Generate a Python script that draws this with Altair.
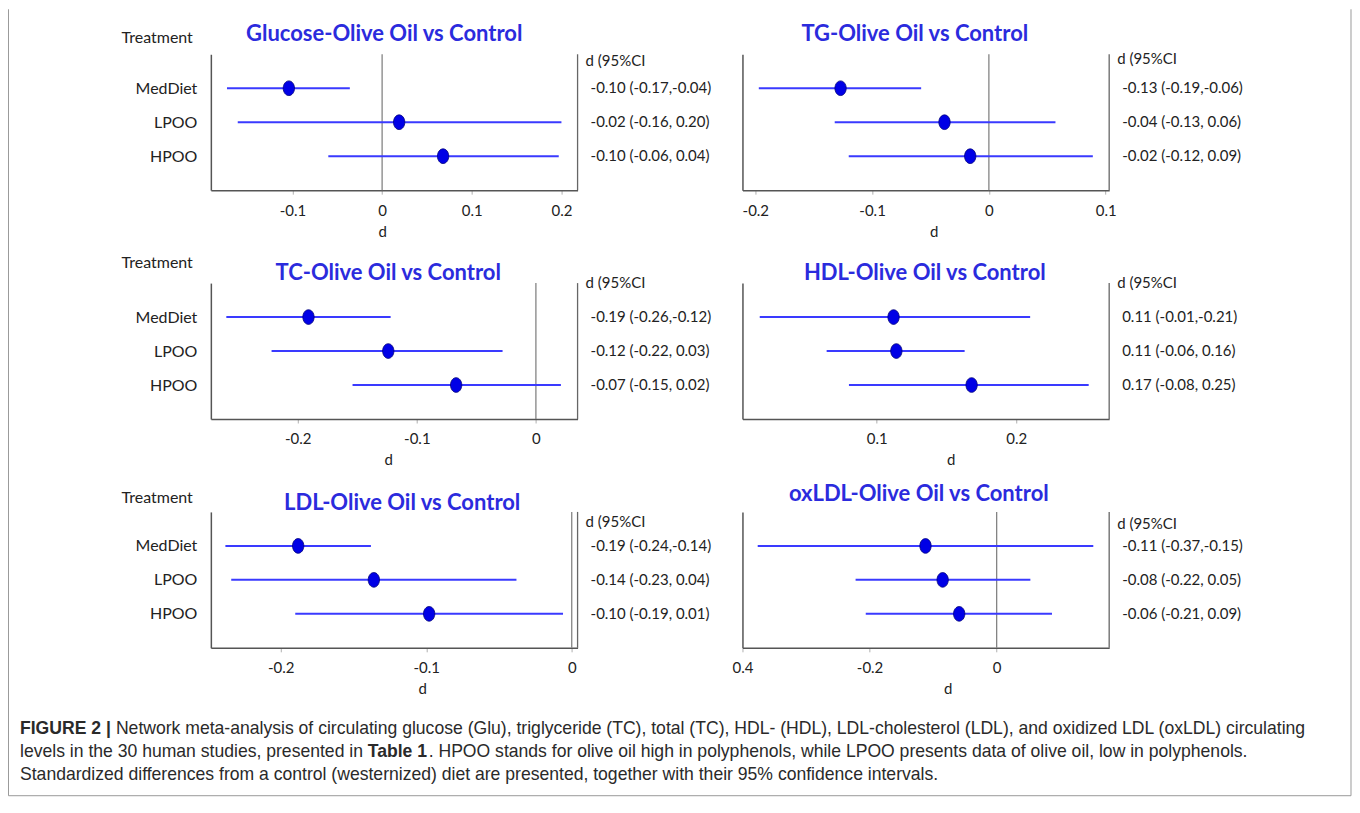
import altair as alt
import pandas as pd

# ---------------- data ----------------
treatments = ["MedDiet", "LPOO", "HPOO"]

panel_titles = [
    "Glucose-Olive Oil vs Control",
    "TG-Olive Oil vs Control",
    "TC-Olive Oil vs Control",
    "HDL-Olive Oil vs Control",
    "LDL-Olive Oil vs Control",
    "oxLDL-Olive Oil vs Control",
]

glu_est = [-0.104, 0.019, 0.068]
glu_lo = [-0.173, -0.161, -0.060]
glu_hi = [-0.036, 0.200, 0.197]
glu_lab = ["-0.10 (-0.17,-0.04)", "-0.02 (-0.16, 0.20)", "-0.10 (-0.06, 0.04)"]

tg_est = [-0.127, -0.038, -0.016]
tg_lo = [-0.197, -0.132, -0.120]
tg_hi = [-0.058, 0.057, 0.089]
tg_lab = ["-0.13 (-0.19,-0.06)", "-0.04 (-0.13, 0.06)", "-0.02 (-0.12, 0.09)"]

tc_est = [-0.191, -0.124, -0.067]
tc_lo = [-0.260, -0.222, -0.154]
tc_hi = [-0.122, -0.028, 0.021]
tc_lab = ["-0.19 (-0.26,-0.12)", "-0.12 (-0.22, 0.03)", "-0.07 (-0.15, 0.02)"]

hdl_est = [0.112, 0.114, 0.168]
hdl_lo = [0.016, 0.064, 0.080]
hdl_hi = [0.210, 0.163, 0.252]
hdl_lab = ["0.11 (-0.01,-0.21)", "0.11 (-0.06, 0.16)", "0.17 (-0.08, 0.25)"]

ldl_est = [-0.188, -0.136, -0.098]
ldl_lo = [-0.238, -0.234, -0.190]
ldl_hi = [-0.138, -0.038, -0.006]
ldl_lab = ["-0.19 (-0.24,-0.14)", "-0.14 (-0.23, 0.04)", "-0.10 (-0.19, 0.01)"]

ox_est = [-0.112, -0.085, -0.059]
ox_lo = [-0.376, -0.222, -0.206]
ox_hi = [0.152, 0.053, 0.087]
ox_lab = ["-0.11 (-0.37,-0.15)", "-0.08 (-0.22, 0.05)", "-0.06 (-0.21, 0.09)"]

x_domains = [
    [-0.191, 0.218],
    [-0.211, 0.103],
    [-0.273, 0.035],
    [0.0036, 0.2667],
    [-0.248, 0.004],
    [-0.400, 0.177],
]
x_ticks = [
    [-0.1, 0, 0.1, 0.2],
    [-0.2, -0.1, 0, 0.1],
    [-0.2, -0.1, 0],
    [0.1, 0.2],
    [-0.2, -0.1, 0],
    [-0.4, -0.2, 0],
]

header_text = "d (95%CI"
treatment_header = "Treatment"
axis_title = "d"

caption_bold_1 = "FIGURE 2 |"
caption_1 = ("Network meta-analysis of circulating glucose (Glu), triglyceride (TC), total (TC), "
             "HDL- (HDL), LDL-cholesterol (LDL), and oxidized LDL (oxLDL) circulating")
caption_2a = "levels in the 30 human studies, presented in"
caption_bold_2 = "Table 1"
caption_2b = (". HPOO stands for olive oil high in polyphenols, while LPOO presents data of olive oil, "
              "low in polyphenols.")
caption_3 = ("Standardized differences from a control (westernized) diet are presented, together "
             "with their 95% confidence intervals.")

# ---------------- style / layout ----------------
W, H = 367, 136
FONT = "Lato"
CAP_FONT = "Liberation Sans"
CAP_SIZE = 17.6
LINE_BLUE = "#3a3aff"
DOT_BLUE = "#0000e6"
TITLE_BLUE = "#2b2bdd"
TXT = "#222222"
ELLIPSE = "M -0.77,0 A 0.77,1 0 1,1 0.77,0 A 0.77,1 0 1,1 -0.77,0 Z"

# per panel: title dx, title dy, header dy, d-title dx, treatment dy
title_dx = [-10, -11, -6, -1, 8, -7]
title_dy = [-20, -20, -10, -10, -9, -18]
header_dy = [7, 5, 0, 0, 10, 12]
dtitle_dx = [-12, 8, -6, 25, 28, 22]
treat_dy = [-16, -16, -20, -20, -14, -14]

PX0, PY0 = 211, 53  # page position of first panel's plot origin


def one(txt):
    return pd.DataFrame({"t": [txt]})


def panel(i, est, lo, hi, lab, left):
    df = pd.DataFrame({"treatment": treatments, "est": est, "lo": lo, "hi": hi, "lab": lab})
    xs = alt.Scale(domain=x_domains[i], nice=False, zero=False)
    ys = alt.Scale(type="point", domain=treatments, padding=1)
    if i == 5:
        lexpr = ("datum.value <= -0.35 ? '0.4' : (datum.value == 0 ? '0' : "
                 "(datum.value < 0 ? '-' : '') + format(abs(datum.value), '.1f'))")
    else:
        lexpr = ("datum.value == 0 ? '0' : (datum.value < 0 ? '-' : '') + "
                 "format(abs(datum.value), '.1f')")
    xaxis = alt.Axis(
        values=x_ticks[i], title=axis_title, labelExpr=lexpr, grid=False,
        domainColor="#555555", domainWidth=1.5, tickColor="#b0b0b0", tickSize=4,
        labelFont=FONT, labelFontSize=15, labelColor=TXT, labelPadding=9,
        labelFlush=False, labelOverlap=False,
        titleFont=FONT, titleFontSize=15, titleFontWeight="normal", titleColor=TXT,
        titlePadding=6, titleX=W / 2 + dtitle_dx[i],
    )
    yaxis = alt.Axis(
        title=None, ticks=False, labels=left, grid=False,
        domainColor="#555555", domainWidth=1.5, labelPadding=14,
        labelFont=FONT, labelFontSize=16, labelColor=TXT,
    )
    base = alt.Chart(df)
    ci = base.mark_rule(color=LINE_BLUE, strokeWidth=2).encode(
        x=alt.X("lo:Q", scale=xs, axis=xaxis),
        x2="hi:Q",
        y=alt.Y("treatment:N", scale=ys, axis=yaxis),
    )
    dots = base.mark_point(shape=ELLIPSE, filled=True, fill=DOT_BLUE, stroke="#00007a",
                           strokeWidth=0.8, opacity=1, size=216).encode(
        x=alt.X("est:Q", scale=xs),
        y=alt.Y("treatment:N", scale=ys),
    )
    vals = base.mark_text(align="left", baseline="middle", font=FONT, fontSize=15,
                          color=TXT).encode(
        x=alt.value(W + 13),
        y=alt.Y("treatment:N", scale=ys),
        text="lab:N",
    )
    right = alt.Chart(one("r")).mark_rule(color="#666666", strokeWidth=1.3).encode(
        x=alt.value(W), y=alt.value(0), y2=alt.value(H))
    hdr = alt.Chart(one(header_text)).mark_text(
        align="left", baseline="middle", font=FONT, fontSize=15, color=TXT).encode(
        x=alt.value(W + 8), y=alt.value(header_dy[i]), text="t:N")
    ttl = alt.Chart(one(panel_titles[i])).mark_text(
        align="center", baseline="middle", font=FONT, fontSize=22, fontWeight="bold",
        color=TITLE_BLUE).encode(
        x=alt.value(W / 2 + title_dx[i]), y=alt.value(title_dy[i]), text="t:N")
    layers = [right]
    lo_d, hi_d = x_domains[i]
    if lo_d < 0 < hi_d or hi_d == 0:
        zero = alt.Chart(pd.DataFrame({"z": [0.0]})).mark_rule(
            color="#7a7a7a", strokeWidth=1.2).encode(x=alt.X("z:Q", scale=xs))
        layers.append(zero)
    layers += [ci, dots, vals, hdr, ttl]
    if left:
        tr = alt.Chart(one(treatment_header)).mark_text(
            align="right", baseline="middle", font=FONT, fontSize=16, color=TXT).encode(
            x=alt.value(-18), y=alt.value(treat_dy[i]), text="t:N")
        layers.append(tr)
    if i == 0:
        # frame and caption, positioned relative to the first panel
        fx0, fx1 = 8.5 - PX0, 1352 - PX0
        fy0, fy1 = 8 - PY0, 795 - PY0
        fr = alt.Chart(one("f"))
        layers.append(fr.mark_rule(color="#9a9a9a", strokeWidth=1).encode(
            x=alt.value(fx0), y=alt.value(fy0), y2=alt.value(fy1)))
        layers.append(fr.mark_rule(color="#9a9a9a", strokeWidth=1).encode(
            x=alt.value(fx1), y=alt.value(fy0), y2=alt.value(fy1)))
        layers.append(fr.mark_rule(color="#9a9a9a", strokeWidth=1).encode(
            x=alt.value(fx0), x2=alt.value(fx1), y=alt.value(fy1)))
        pieces = [
            (caption_bold_1, 20, 728, "bold"),
            (caption_1, 116, 728, "normal"),
            (caption_2a, 20, 751, "normal"),
            (caption_bold_2, 368, 751, "bold"),
            (caption_2b, 429, 751, "normal"),
            (caption_3, 20, 774, "normal"),
        ]
        for txt, px, py, fw in pieces:
            layers.append(alt.Chart(one(txt)).mark_text(
                align="left", baseline="middle", font=CAP_FONT, fontSize=CAP_SIZE,
                fontWeight=fw, color="#2a2a2a").encode(
                x=alt.value(px - PX0), y=alt.value(py - PY0), text="t:N"))
    return alt.layer(*layers).properties(width=W, height=H)


p1 = panel(0, glu_est, glu_lo, glu_hi, glu_lab, True)
p2 = panel(1, tg_est, tg_lo, tg_hi, tg_lab, False)
p3 = panel(2, tc_est, tc_lo, tc_hi, tc_lab, True)
p4 = panel(3, hdl_est, hdl_lo, hdl_hi, hdl_lab, False)
p5 = panel(4, ldl_est, ldl_lo, ldl_hi, ldl_lab, True)
p6 = panel(5, ox_est, ox_lo, ox_hi, ox_lab, False)

chart = alt.concat(
    p1, p2, p3, p4, p5, p6, columns=2,
    spacing={"row": 93, "column": 165}, bounds="flush",
).properties(padding=0, background="white").configure_view(stroke=None)

chart.save("out.html", embed_options={"renderer": "svg", "actions": False})
